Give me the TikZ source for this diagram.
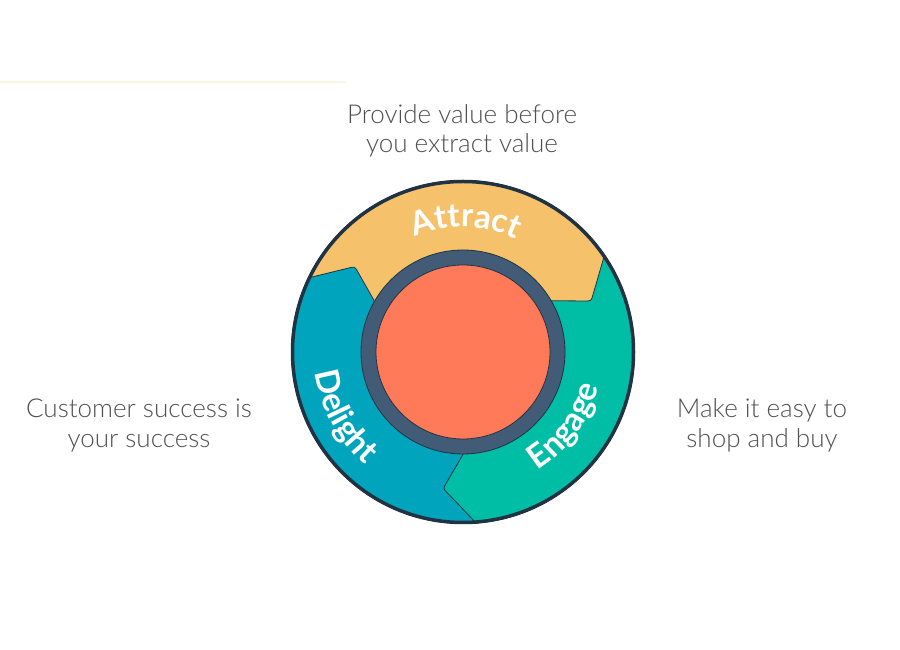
\documentclass[tikz,border=0pt]{standalone}
\usepackage{fontspec}
\setmainfont{Lato}
\newfontfamily\sidefont{Lato Light}
\usetikzlibrary{decorations.text}
\definecolor{flyyellow}{HTML}{F5C26B}
\definecolor{flyblue}{HTML}{00A4BD}
\definecolor{flygreen}{HTML}{00BDA5}
\definecolor{flyorange}{HTML}{FF7A59}
\definecolor{flyring}{HTML}{425B76}
\definecolor{flyedge}{HTML}{213343}
\definecolor{flygray}{HTML}{505050}
\definecolor{flyline}{HTML}{FCF3E2}
\newcommand\labelfont{\fontsize{33}{33}\selectfont\bfseries}
\newcommand\flyseg[2]{%
  \path[fill=#2, draw=flyedge, line width=0.8pt]
    ({#1+0.4}:171.5pt) arc[start angle={#1+0.4}, end angle={#1+121}, radius=171.5pt]
    -- ({#1+121}:95pt) arc[start angle={#1+121}, end angle={#1-1.3}, radius=95pt]
    -- ({#1-11.33}:132.4pt) .. controls ({#1-12.3}:138pt) .. ({#1-10.38}:141.7pt) -- cycle;}
\tikzset{
  sidetext/.style={align=center, font=\sidefont\fontsize{26}{29.5}\selectfont, text=flygray, inner sep=0pt},
  arclabel/.style={decorate, decoration={text along path, text align=center, text color=white, text={|\labelfont|#1}}}
}
\begin{document}
\begin{tikzpicture}
\fill[white] (0,0) rectangle (900pt,650pt);
\useasboundingbox (0,0) rectangle (900pt,650pt);
\draw[flyline, line width=1.2pt] (0,568pt) -- (346pt,568pt);

\begin{scope}[shift={(463pt,298pt)}]
  \coordinate (hub) at (0,0);
  \flyseg{274}{flygreen}
  \flyseg{34}{flyyellow}
  \flyseg{154}{flyblue}
  \begin{scope}
    \clip (0,0) -- (230:200pt) arc[start angle=230, end angle=300, radius=200pt] -- cycle;
    \flyseg{274}{flygreen}
  \end{scope}
  \draw[flyring, line width=15pt] (hub) circle (94.5pt);
  \draw[flyedge, line width=0.8pt] (hub) circle (102pt);
  \filldraw[fill=flyorange, draw=flyedge, line width=0.8pt] (hub) circle (87pt);
  \draw[flyedge, line width=3.5pt] (hub) circle (170.5pt);
  \path[arclabel=Attract] (148.8:125pt) arc[start angle=148.8, end angle=28.8, radius=125pt];
  \path[arclabel=Delight] (148.5:149.5pt) arc[start angle=148.5, end angle=268.5, radius=149.5pt];
  \path[arclabel=Engage] (-96:140pt) arc[start angle=-96, end angle=24, radius=140pt];
\end{scope}

\node[sidetext] (attracttxt) at (462pt,519pt) {Provide value before\\you extract value};
\node[sidetext] (delighttxt) at (139pt,224.5pt) {Customer success is\\your success};
\node[sidetext] (engagetxt) at (762pt,224.5pt) {Make it easy to\\shop and buy};
\end{tikzpicture}
\end{document}
